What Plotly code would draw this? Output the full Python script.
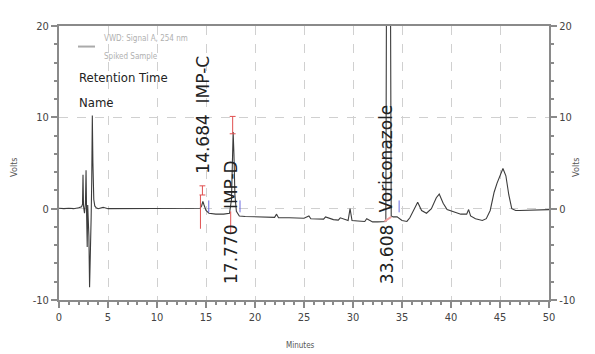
import plotly.graph_objects as go

# ---- data ----
time_min = [0.0, 0.5, 1.0, 1.5, 2.0, 2.3, 2.4, 2.45, 2.5, 2.6, 2.7, 2.76, 2.82, 2.88, 2.93, 2.98,
            3.05, 3.12, 3.2, 3.28, 3.34, 3.4, 3.46, 3.55, 3.65, 3.8, 4.0, 4.5, 5.0, 6.0, 7.0,
            8.0, 9.0, 10.0, 11.0, 12.0, 13.0, 14.0, 14.4, 14.55, 14.68, 14.8, 15.0, 15.3,
            16.0, 16.8, 17.4, 17.6, 17.7, 17.77, 17.85, 17.95, 18.1, 18.4, 19.0, 20.0,
            21.0, 22.0, 22.2, 22.4, 23.5, 25.0, 25.5, 25.7, 27.0, 27.2, 28.0, 28.5, 28.7,
            29.5, 29.7, 29.9, 30.5, 31.2, 31.4, 32.0, 32.5, 33.0, 33.35, 33.42, 33.6,
            33.82, 33.9, 34.1, 34.5, 35.0, 35.5, 35.8, 36.2, 36.6, 37.0, 37.5, 38.0, 38.5,
            38.8, 39.2, 39.6, 40.2, 41.0, 41.6, 41.8, 42.0, 42.5, 43.2, 43.6, 44.0, 44.4,
            44.7, 45.0, 45.3, 45.6, 45.9, 46.2, 46.6, 47.0, 48.0, 49.0, 50.0]
volts = [0.05, 0.0, 0.05, 0.0, 0.1, 0.2, 0.5, 3.7, 0.3, -0.5, 0.6, 4.2, -0.8, -4.2, 0.4, -1.5,
         -3.0, -8.6, -2.0, -1.0, 3.0, 10.2, 5.0, 1.0, 0.3, 0.1, 0.0, 0.15, 0.0, 0.0, 0.05,
         0.0, 0.0, 0.05, 0.0, 0.0, 0.05, 0.0, 0.05, 0.3, 0.8, 0.4, -0.2, -0.5,
         -0.6, -0.6, -0.5, 1.0, 6.0, 8.4, 6.0, 1.5, -0.3, -0.8, -0.85, -0.9,
         -0.9, -0.95, -0.6, -1.0, -1.0, -1.05, -0.8, -1.1, -1.15, -0.9, -1.2, -1.25, -1.0,
         -1.3, 0.0, -1.3, -1.35, -1.4, -1.1, -1.45, -1.45, -1.45, -1.4, 25.0, 40.0,
         25.0, -0.8, -0.9, -0.9, -1.3, -1.4, -1.0, -0.2, 0.7, -0.2, -0.5, 0.0, 1.2,
         1.6, 0.6, -0.1, -0.3, -0.6, -0.6, -0.1, -0.8, -1.1, -1.3, -1.1, -0.2, 1.8,
         2.8, 3.6, 4.4, 3.6, 1.5, 0.0, -0.2, -0.2, -0.15, -0.1, -0.1]

peak_times = [14.684, 17.770, 33.608]
peak_names = ["IMP-C", "IMP-D", "Voriconazole"]

x_ticks = [0, 5, 10, 15, 20, 25, 30, 35, 40, 45, 50]
y_ticks = [-10, 0, 10, 20]
y_tick_text = ["-10", "0", "10", "20"]

legend_lines = ["VWD: Signal A, 254 nm", "Spiked Sample"]
legend_titles = ["Retention Time", "Name"]

# ---- figure ----
AX = "#8a8a8a"
TXT = "#444444"
NARROW = "Liberation Sans Narrow, DejaVu Sans Condensed, Liberation Sans, Arial, sans-serif"

# plot area in screenshot pixels: x 59..549, y 20..300
PX0, PX1, PY0, PY1 = 59, 549, 20, 300


def px(xp):
    return (xp - PX0) / (PX1 - PX0)


def py(yp):
    return (PY1 - yp) / (PY1 - PY0)


fig = go.Figure()
fig.add_trace(go.Scatter(x=time_min, y=volts, mode="lines",
                         line=dict(color="#3c3c3c", width=1.1), showlegend=False,
                         hoverinfo="skip"))
fig.add_trace(go.Scatter(x=[0, 50], y=[0, 0], yaxis="y2", mode="lines",
                         line=dict(width=0), opacity=0, showlegend=False, hoverinfo="skip"))

axis_common = dict(showline=True, linecolor=AX, linewidth=2, ticks="outside",
                   tickcolor=AX, ticklen=6, tickwidth=1.5,
                   tickfont=dict(family=NARROW, size=11, color=TXT),
                   gridcolor="#d0d0d0", griddash="dash", gridwidth=1,
                   zeroline=False)

fig.update_layout(
    width=595, height=354,
    margin=dict(l=51, r=54, t=12, b=62),
    paper_bgcolor="white", plot_bgcolor="white",
    xaxis=dict(range=[0, 50], tickvals=x_ticks, mirror=True, showgrid=True,
               minor=dict(dtick=1, ticklen=3, tickcolor=AX, ticks="outside"),
               **axis_common),
    yaxis=dict(range=[-10, 20], tickvals=y_ticks, ticktext=y_tick_text, showgrid=True,
               minor=dict(dtick=2, ticklen=3, tickcolor=AX, ticks="outside"),
               **axis_common),
    yaxis2=dict(range=[-10, 20], tickvals=y_ticks, ticktext=y_tick_text, overlaying="y",
                side="right", showgrid=False,
                minor=dict(dtick=2, ticklen=3, tickcolor=AX, ticks="outside"),
                **axis_common),
)

# axis titles as small text
for xp in (14, 576):
    fig.add_annotation(text="Volts", x=px(xp), y=py(165), xref="paper", yref="paper",
                       xanchor="center", yanchor="middle", textangle=-90, showarrow=False,
                       font=dict(family=NARROW, size=9, color="#555"))
fig.add_annotation(text="Minutes", x=px(300), y=py(347), xref="paper", yref="paper",
                   xanchor="center", yanchor="middle", showarrow=False,
                   font=dict(family=NARROW, size=8, color="#555"))

# legend block
fig.add_shape(type="line", xref="paper", yref="paper", x0=px(78), x1=px(95),
              y0=py(41), y1=py(41), line=dict(color="#aaaaaa", width=2))
for i, s in enumerate(legend_lines):
    fig.add_annotation(text=s, xref="paper", yref="paper", x=px(102), y=py(33 + 18 * i),
                       xanchor="left", yanchor="middle", showarrow=False,
                       font=dict(family=NARROW, size=8, color="#b0b0b0"))
for i, s in enumerate(legend_titles):
    fig.add_annotation(text=s, xref="paper", yref="paper", x=px(77), y=py(73 + 25 * i),
                       xanchor="left", yanchor="middle", showarrow=False,
                       font=dict(family=NARROW, size=13, color="#222"))

# peak labels
LBL = dict(family="DejaVu Sans, sans-serif", size=17, color="#222")
fig.add_annotation(text=f"{peak_times[0]:.3f}  {peak_names[0]}", x=peak_times[0], y=3.6,
                   textangle=-90, showarrow=False, xanchor="center", yanchor="bottom",
                   font=LBL)
for t, n, ytop in [(peak_times[1], peak_names[1], -0.3), (peak_times[2], peak_names[2], -0.6)]:
    fig.add_annotation(text=f"{t:.3f}", x=t - 0.2, y=-1.6, textangle=-90, showarrow=False,
                       xanchor="center", yanchor="top", font=LBL)
    fig.add_annotation(text=n, x=t - 0.2, y=ytop, textangle=-90, showarrow=False,
                       xanchor="center", yanchor="bottom", font=LBL)

# integration markers (red start / top bars, blue end ticks)
RED = "#e05050"
BLUE = "#6a6ae0"
fig.add_shape(type="line", x0=peak_times[0] - 0.25, x1=peak_times[0] - 0.25, y0=-2.2, y1=1.5,
              line=dict(color=RED, width=1))
fig.add_shape(type="line", x0=peak_times[1] - 0.25, x1=peak_times[1] - 0.25, y0=-2.7, y1=-0.3,
              line=dict(color=RED, width=1))
for t, yb, yt in [(peak_times[0], 1.5, 2.5), (peak_times[1], 8.2, 10.1)]:
    fig.add_shape(type="line", x0=t - 0.05, x1=t - 0.05, y0=yb, y1=yt, line=dict(color=RED, width=1))
    for yy in (yb, yt):
        fig.add_shape(type="line", x0=t - 0.35, x1=t + 0.25, y0=yy, y1=yy,
                      line=dict(color=RED, width=1))
for t, off in [(peak_times[0], 0.6), (peak_times[1], 0.7), (peak_times[2], 1.1)]:
    fig.add_shape(type="line", x0=t + off, x1=t + off, y0=-0.4, y1=0.9,
                  line=dict(color=BLUE, width=1))
fig.add_shape(type="line", x0=peak_times[2] - 0.4, x1=peak_times[2] + 0.3, y0=-1.4, y1=-0.9,
              line=dict(color="#f0a0a0", width=2))

fig.write_html("out.html")
